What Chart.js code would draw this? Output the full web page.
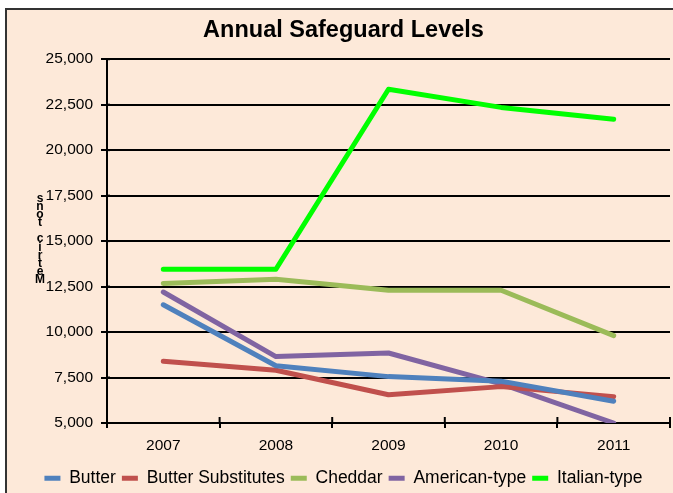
<!DOCTYPE html>
<html>
<head>
<meta charset="utf-8">
<script src="https://cdn.jsdelivr.net/npm/chart.js@4/dist/chart.umd.min.js"></script>
<style>
  html, body { margin: 0; padding: 0; background: #ffffff; }
  #wrap { position: relative; width: 673px; height: 493px; }
</style>
</head>
<body>
<div id="wrap"><canvas id="c" width="673" height="493"></canvas></div>
<script>
const years = ['2007', '2008', '2009', '2010', '2011'];
const butter = [11500, 8150, 7550, 7300, 6200];
const butterSubstitutes = [8400, 7900, 6550, 7000, 6450];
const cheddar = [12675, 12900, 12300, 12300, 9800];
const americanType = [12200, 8650, 8850, 7150, 5000];
const italianType = [13450, 13450, 23350, 22350, 21700];
const seriesNames = ['Butter', 'Butter Substitutes', 'Cheddar', 'American-type', 'Italian-type'];
const seriesColors = ['#4F81BD', '#C0504D', '#9BBB59', '#8064A2', '#00FF00'];
const yTitle = 'Metric tons';
const chartTitle = 'Annual Safeguard Levels';

const FONT = '"Liberation Sans", Arial, sans-serif';

const bgPlugin = {
  id: 'bg',
  beforeDraw(chart) {
    const ctx = chart.ctx;
    ctx.save();
    ctx.fillStyle = '#ffffff';
    ctx.fillRect(0, 0, chart.width, chart.height);
    ctx.fillStyle = '#FDE9D9';
    ctx.fillRect(6, 8, chart.width - 6, chart.height - 8);
    ctx.fillStyle = '#333333';
    ctx.fillRect(5, 8, chart.width - 5, 2);
    ctx.fillRect(5, 8, 2, chart.height - 8);
    ctx.restore();
  }
};

const extrasPlugin = {
  id: 'extras',
  afterDraw(chart) {
    const ctx = chart.ctx;
    const xs = chart.scales.x, ys = chart.scales.y;
    const ca = chart.chartArea;
    ctx.save();
    ctx.strokeStyle = '#000';
    ctx.lineWidth = 2;
    ys.ticks.forEach((t) => {
      const y = ys.getPixelForValue(t.value);
      ctx.beginPath(); ctx.moveTo(ca.left, y); ctx.lineTo(ca.left + 3, y); ctx.stroke();
    });
    const n = xs.ticks.length;
    for (let i = 0; i <= n; i++) {
      const x = ca.left + (ca.right - ca.left) * i / n;
      ctx.beginPath(); ctx.moveTo(x, ca.bottom - 6); ctx.lineTo(x, ca.bottom); ctx.stroke();
    }
    ctx.fillStyle = '#000';
    ctx.font = 'bold 12px ' + FONT;
    ctx.textAlign = 'center';
    ctx.textBaseline = 'middle';
    const chars = yTitle.split('');
    const step = 8.1;
    const mid = (ca.top + ca.bottom) / 2 - 2;
    const startY = mid + step * (chars.length - 1) / 2;
    chars.forEach((ch, i) => {
      ctx.fillText(ch, 40, startY - i * step);
    });
    ctx.restore();
  }
};

const dataSets = [butter, butterSubstitutes, cheddar, americanType, italianType];

new Chart(document.getElementById('c'), {
  type: 'line',
  data: {
    labels: years,
    datasets: dataSets.map((d, i) => ({
      label: seriesNames[i],
      data: d,
      borderColor: seriesColors[i],
      backgroundColor: seriesColors[i],
      borderWidth: 5,
      pointRadius: 0,
      pointHoverRadius: 0,
      tension: 0,
      fill: false,
      borderCapStyle: 'round',
      borderJoinStyle: 'round'
    }))
  },
  options: {
    responsive: false,
    animation: false,
    devicePixelRatio: 1,
    layout: { padding: { left: 17, right: 3, top: 8, bottom: -4 } },
    plugins: {
      title: {
        display: true,
        text: chartTitle,
        color: '#000',
        font: { family: FONT, size: 23.5, weight: 'bold' },
        padding: { top: 8, bottom: 15 }
      },
      legend: {
        position: 'bottom',
        align: 'center',
        labels: {
          color: '#000',
          font: { family: FONT, size: 17.5 },
          boxWidth: 16,
          boxHeight: 5,
          padding: 6,
          generateLabels(chart) {
            const items = Chart.defaults.plugins.legend.labels.generateLabels(chart);
            items.forEach(it => { it.lineWidth = 0; it.strokeStyle = 'rgba(0,0,0,0)'; });
            return items;
          }
        }
      },
      tooltip: { enabled: false }
    },
    scales: {
      x: {
        offset: true,
        grid: { offset: true, drawOnChartArea: false, drawTicks: true, tickLength: 5, color: '#000', lineWidth: 2 },
        border: { display: true, color: '#000', width: 2 },
        ticks: { color: '#000', font: { family: FONT, size: 15.5 }, padding: 8 },
        afterFit(scale) { scale.height = 40.5; }
      },
      y: {
        min: 5000,
        max: 25000,
        grid: { color: '#000', lineWidth: 2, drawTicks: true, tickLength: 6 },
        border: { display: true, color: '#000', width: 2 },
        ticks: {
          stepSize: 2500,
          color: '#000',
          font: { family: FONT, size: 15.5 },
          padding: 8,
          callback: v => Number(v).toLocaleString('en-US')
        },
        afterFit(scale) { scale.width = 90; }
      }
    }
  },
  plugins: [bgPlugin, extrasPlugin]
});
</script>
</body>
</html>
